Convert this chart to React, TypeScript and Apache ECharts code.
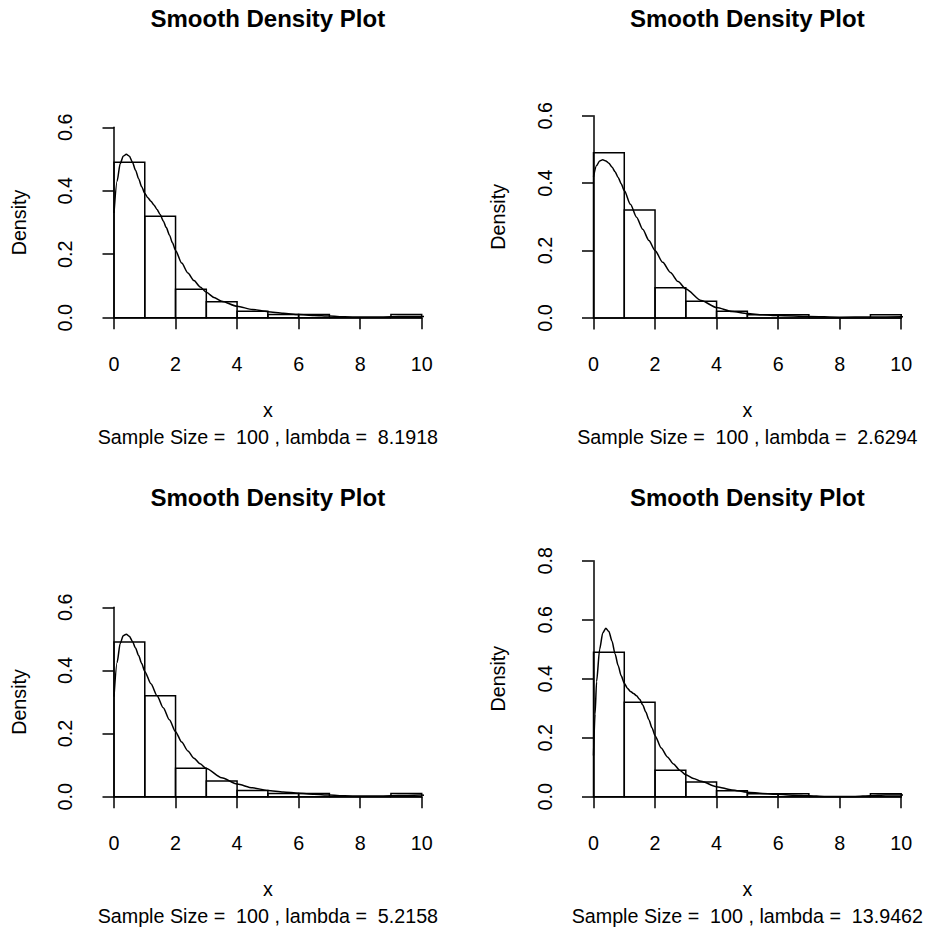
import React, { useEffect, useRef } from "react";
import * as echarts from "echarts";

// ---------- data ----------
const binEdges = [0, 1, 2, 3, 4, 5, 6, 7, 8, 9, 10];
const binDensity = [0.49, 0.32, 0.09, 0.05, 0.02, 0.01, 0.01, 0, 0, 0.01];

const mainTitle = "Smooth Density Plot";
const xLabel = "x";
const yLabel = "Density";
const sampleSize = 100;
const lambdaLabels = ["8.1918", "2.6294", "5.2158", "13.9462"];
const yMaxes = [0.6, 0.6, 0.6, 0.8];

const dens1X = [0, 0.1, 0.2, 0.3, 0.4, 0.5, 0.6, 0.7, 0.8, 0.9, 1.0, 1.1, 1.2, 1.3, 1.4, 1.5, 1.6, 1.7, 1.8, 1.9, 2.0, 2.2, 2.4, 2.6, 2.8, 3.0, 3.25, 3.5, 4.0, 4.5, 5, 5.5, 6, 6.5, 7, 7.5, 8, 8.5, 9, 9.5, 10, 10.4];
const dens1Y = [0.33, 0.43, 0.485, 0.509, 0.515, 0.509, 0.49, 0.465, 0.438, 0.413, 0.392, 0.378, 0.367, 0.355, 0.341, 0.325, 0.305, 0.284, 0.261, 0.236, 0.212, 0.172, 0.141, 0.117, 0.097, 0.08, 0.064, 0.052, 0.036, 0.026, 0.019, 0.014, 0.01, 0.007, 0.005, 0.003, 0.002, 0.002, 0.003, 0.004, 0.004, 0.003];

const dens2X = [0, 0.1, 0.2, 0.3, 0.4, 0.5, 0.6, 0.7, 0.8, 0.9, 1.0, 1.2, 1.4, 1.6, 1.8, 2.0, 2.25, 2.5, 2.75, 3.0, 3.5, 4.0, 4.5, 5, 5.5, 6, 7, 8, 9, 10, 10.4];
const dens2Y = [0.419, 0.452, 0.466, 0.469, 0.466, 0.459, 0.448, 0.434, 0.417, 0.398, 0.378, 0.337, 0.299, 0.263, 0.23, 0.2, 0.165, 0.135, 0.108, 0.086, 0.052, 0.031, 0.019, 0.013, 0.0095, 0.0075, 0.0045, 0.0025, 0.003, 0.0035, 0.003];

const dens3X = [0, 0.1, 0.2, 0.3, 0.4, 0.5, 0.6, 0.7, 0.8, 0.9, 1.0, 1.2, 1.4, 1.6, 1.8, 2.0, 2.2, 2.4, 2.6, 2.8, 3.0, 3.5, 4.0, 4.5, 5, 5.5, 6, 6.5, 7, 7.5, 8, 8.5, 9, 9.5, 10, 10.4];
const dens3Y = [0.317, 0.425, 0.485, 0.51, 0.515, 0.508, 0.492, 0.471, 0.447, 0.422, 0.397, 0.358, 0.32, 0.282, 0.244, 0.206, 0.173, 0.145, 0.122, 0.104, 0.089, 0.06, 0.04, 0.028, 0.02, 0.015, 0.011, 0.008, 0.005, 0.003, 0.002, 0.002, 0.003, 0.004, 0.005, 0.003];

const dens4X = [0, 0.05, 0.1, 0.2, 0.3, 0.4, 0.5, 0.6, 0.7, 0.8, 0.9, 1.0, 1.1, 1.2, 1.3, 1.4, 1.5, 1.6, 1.7, 1.8, 1.9, 2.0, 2.2, 2.4, 2.6, 2.8, 3.0, 3.25, 3.5, 4.0, 4.5, 5, 5.5, 6, 6.5, 7, 7.5, 8, 8.5, 9, 9.5, 10, 10.4];
const dens4Y = [0.14, 0.28, 0.39, 0.5, 0.555, 0.571, 0.56, 0.528, 0.485, 0.445, 0.41, 0.385, 0.368, 0.357, 0.35, 0.342, 0.33, 0.311, 0.287, 0.261, 0.234, 0.207, 0.165, 0.135, 0.111, 0.09, 0.074, 0.062, 0.052, 0.034, 0.023, 0.015, 0.011, 0.008, 0.005, 0.003, 0.001, 0.0005, 0.001, 0.003, 0.006, 0.006, 0.002];

const densX = [dens1X, dens2X, dens3X, dens4X];
const densY = [dens1Y, dens2Y, dens3Y, dens4Y];

// ---------- layout (pixels) ----------
const panels = [
  { left: 114, right: 421.7, top: 127.3, bottom: 317.7 },
  { left: 593.5, right: 901.2, top: 115.7, bottom: 318 },
  { left: 114, right: 421.7, top: 607.3, bottom: 796.7 },
  { left: 593.5, right: 901.2, top: 560.7, bottom: 796.7 },
];
const rowShift = [0, 0, 479, 479];

const FONT = "'Liberation Sans', Arial, Helvetica, sans-serif";
const FS = 19.7;
const LW = 1.5;
const BLACK = "#000";
const NBSP = "\u00a0";

function buildOption() {
  const grid: any[] = [];
  const xAxis: any[] = [];
  const yAxis: any[] = [];
  const series: any[] = [];
  const graphic: any[] = [];

  panels.forEach((p, i) => {
    grid.push({
      left: p.left,
      top: p.top,
      width: p.right - p.left,
      height: p.bottom - p.top,
      containLabel: false,
    });
    xAxis.push({
      gridIndex: i,
      type: "value",
      min: 0,
      max: 10,
      interval: 2,
      offset: 10.6,
      axisLine: { show: true, lineStyle: { color: BLACK, width: LW } },
      axisTick: { show: true, length: 11.5, lineStyle: { color: BLACK, width: LW } },
      axisLabel: {
        color: BLACK,
        fontSize: FS,
        fontFamily: FONT,
        margin: 35.6,
        verticalAlign: "middle",
      },
      splitLine: { show: false },
      name: xLabel,
      nameLocation: "middle",
      nameGap: 81.7,
      nameTextStyle: {
        color: BLACK,
        fontSize: FS,
        fontFamily: FONT,
        verticalAlign: "middle",
        align: "center",
      },
    });
    yAxis.push({
      gridIndex: i,
      type: "value",
      min: 0,
      max: yMaxes[i],
      interval: 0.2,
      offset: 12.3,
      axisLine: { show: true, lineStyle: { color: BLACK, width: LW } },
      axisTick: { show: true, length: 11.5, lineStyle: { color: BLACK, width: LW } },
      axisLabel: {
        color: BLACK,
        fontSize: FS,
        fontFamily: FONT,
        rotate: 90,
        margin: 36.5,
        align: "center",
        verticalAlign: "middle",
        formatter: (v: number) => v.toFixed(1),
      },
      splitLine: { show: false },
      name: yLabel,
      nameLocation: "middle",
      nameRotate: 90,
      nameGap: 83,
      nameTextStyle: {
        color: BLACK,
        fontSize: FS,
        fontFamily: FONT,
        verticalAlign: "middle",
        align: "center",
      },
    });

    series.push({
      type: "custom",
      xAxisIndex: i,
      yAxisIndex: i,
      data: binDensity.map((d, k) => [binEdges[k], binEdges[k + 1], d]),
      encode: { x: [0, 1], y: 2 },
      renderItem: (params: any, api: any) => {
        const a = api.coord([api.value(0), 0]);
        const b = api.coord([api.value(1), api.value(2)]);
        return {
          type: "polygon",
          shape: {
            points: [
              [a[0], a[1]],
              [b[0], a[1]],
              [b[0], b[1]],
              [a[0], b[1]],
            ],
          },
          style: { fill: "none", stroke: BLACK, lineWidth: LW },
        };
      },
      z: 2,
    });

    series.push({
      type: "line",
      xAxisIndex: i,
      yAxisIndex: i,
      data: densX[i].map((x, k) => [x, densY[i][k]]),
      showSymbol: false,
      symbol: "none",
      smooth: 0.25,
      smoothMonotone: "x",
      clip: false,
      lineStyle: { color: BLACK, width: LW },
      z: 3,
    });

    const cx = (p.left + p.right) / 2;
    graphic.push({
      type: "text",
      x: cx,
      y: 18.4 + rowShift[i],
      style: {
        text: mainTitle,
        fill: BLACK,
        fontSize: 24,
        fontWeight: "bold",
        fontFamily: FONT,
        align: "center",
        verticalAlign: "middle",
      },
    });
    graphic.push({
      type: "text",
      x: cx,
      y: 436.7 + rowShift[i],
      style: {
        text:
          "Sample Size =" + NBSP + " " + sampleSize + " , lambda =" + NBSP + " " + lambdaLabels[i],
        fill: BLACK,
        fontSize: FS,
        fontFamily: FONT,
        align: "center",
        verticalAlign: "middle",
      },
    });
  });

  return {
    animation: false,
    backgroundColor: "#fff",
    grid,
    xAxis,
    yAxis,
    series,
    graphic,
  };
}

export default function App() {
  const ref = useRef<HTMLDivElement | null>(null);
  useEffect(() => {
    if (!ref.current) return;
    const chart = echarts.init(ref.current, null, { renderer: "svg" });
    chart.setOption(buildOption() as any);
    return () => chart.dispose();
  }, []);
  return (
    <div
      ref={ref}
      style={{ position: "absolute", left: 0, top: 0, width: 930, height: 931, background: "#fff" }}
    />
  );
}
